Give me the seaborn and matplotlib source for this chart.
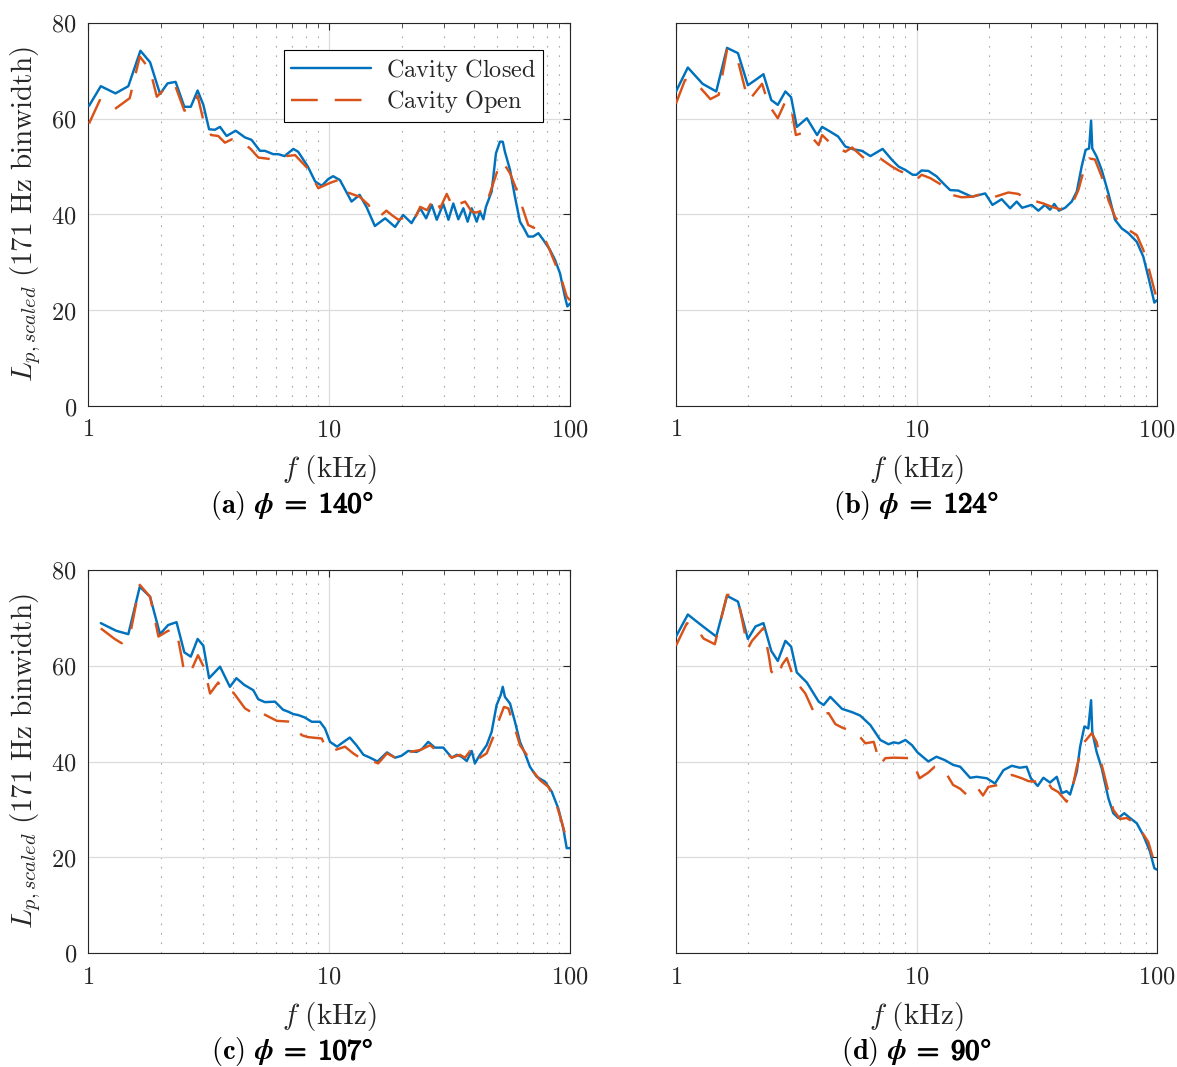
import numpy as np
import matplotlib
matplotlib.use("Agg")
import matplotlib.pyplot as plt
import matplotlib.patheffects as pe
import seaborn as sns
from matplotlib.ticker import FixedLocator, FixedFormatter, LogLocator, NullFormatter
from matplotlib.offsetbox import TextArea, HPacker, AnchoredOffsetbox

# ---------------- data ----------------
series_names = ["Cavity Closed", "Cavity Open"]
panel_letters = ["a", "b", "c", "d"]
panel_phi = [140, 124, 107, 90]
x_ticks = [1, 10, 100]
x_tick_labels = ["1", "10", "100"]
y_ticks = [0, 20, 40, 60, 80]
y_tick_labels = ["0", "20", "40", "60", "80"]

# (a) phi = 140
f_a_closed = [1.01, 1.13, 1.30, 1.47, 1.65, 1.81, 1.99, 2.14, 2.31, 2.51, 2.67, 2.85, 3.01, 3.18, 3.36,
              3.53, 3.76, 4.10, 4.48, 4.77, 5.17, 5.42, 5.87, 6.16, 6.54, 7.11, 7.45, 8.17, 8.76, 9.33,
              9.93, 10.4, 11.1, 12.4, 13.4, 14.3, 15.5, 17.1, 18.8, 20.3, 22.0, 23.9, 25.3, 26.7, 28.0,
              29.8, 31.3, 32.8, 34.4, 36.1, 37.6, 39.1, 41.0, 42.3, 43.7, 44.8, 47.3, 49.3, 51.2, 52.6,
              53.7, 56.4, 59.1, 62.0, 64.4, 67.1, 70.4, 73.9, 77.5, 82.6, 86.7, 90.9, 95.3, 97.5, 100]
L_a_closed = [62.7, 66.8, 65.3, 66.8, 74.2, 71.8, 65.2, 67.4, 67.7, 62.5, 62.5, 65.9, 62.9, 57.8, 57.7,
              58.3, 56.4, 57.5, 56.1, 55.6, 53.3, 53.3, 52.6, 52.6, 52.2, 53.7, 53.1, 50.0, 46.9, 46.0,
              47.4, 48.0, 47.2, 42.7, 44.1, 41.6, 37.6, 39.2, 37.4, 39.9, 38.2, 41.3, 39.2, 42.0, 38.9,
              42.2, 38.9, 42.3, 39.0, 41.3, 38.5, 41.3, 38.5, 40.6, 39.0, 41.6, 44.8, 52.8, 55.2, 55.2,
              53.1, 49.3, 43.7, 38.5, 37.1, 35.4, 35.4, 36.1, 34.7, 32.6, 30.5, 27.7, 22.8, 20.8, 21.4]
f_a_open = [1.01, 1.12, 1.29, 1.49, 1.64, 1.81, 1.93, 2.15, 2.29, 2.51, 2.69, 2.85, 3.01, 3.24, 3.47,
            3.70, 3.95, 4.41, 4.75, 5.09, 5.87, 6.35, 7.23, 8.17, 9.03, 10.1, 10.9, 11.65, 13.4, 14.6,
            15.3, 16.5, 17.3, 18.2, 19.4, 21.0, 22.4, 23.9, 25.5, 27.5, 28.9, 30.8, 32.8, 33.8, 36.7,
            39.1, 40.8, 43.7, 45.8, 51.2, 52.6, 56.4, 60.1, 64.0, 67.1, 71.6, 76.3, 81.3, 86.7, 92.4,
            97.0, 100]
L_a_open = [59.0, 63.9, 62.0, 64.3, 73.0, 70.2, 64.6, 67.0, 67.2, 61.7, 62.0, 64.8, 59.7, 56.6, 56.4,
            55.0, 55.7, 55.0, 53.6, 51.9, 51.5, 52.1, 52.4, 49.6, 45.5, 46.6, 47.2, 44.8, 43.7, 42.0,
            39.9, 39.9, 40.8, 39.9, 38.9, 39.5, 38.5, 41.6, 40.9, 43.7, 41.3, 44.3, 41.3, 42.0, 42.7,
            40.6, 40.4, 40.9, 43.4, 50.7, 51.0, 48.6, 45.1, 40.9, 37.8, 37.1, 36.1, 33.3, 29.8, 26.3,
            22.8, 22.1]

# (b) phi = 124
f_b_closed = [1.0, 1.12, 1.29, 1.47, 1.63, 1.81, 1.99, 2.14, 2.31, 2.49, 2.65, 2.85, 3.01, 3.18, 3.50,
              3.86, 4.05, 4.38, 4.72, 5.06, 5.48, 5.93, 6.43, 7.23, 7.91, 8.43, 8.99, 9.64, 10.0, 10.5,
              11.2, 12.1, 13.1, 13.8, 14.9, 17.0, 19.3, 20.7, 22.6, 24.5, 26.1, 27.5, 30.1, 32.1, 34.2,
              35.9, 37.4, 39.1, 41.5, 44.2, 46.4, 48.6, 50.5, 52.2, 53.2, 53.8, 56.1, 58.9, 62.8, 66.9,
              71.3, 76.0, 82.4, 87.7, 92.0, 97.5, 100]
L_b_closed = [65.7, 70.7, 67.3, 65.7, 74.8, 73.7, 67.0, 68.1, 69.3, 63.9, 62.9, 65.7, 64.5, 58.3, 60.1,
              56.6, 58.3, 57.3, 56.3, 54.2, 53.6, 53.3, 52.2, 53.7, 51.4, 50.0, 49.3, 48.3, 48.3, 49.2,
              49.1, 48.0, 46.2, 45.1, 45.0, 43.7, 44.4, 42.0, 43.2, 41.3, 42.7, 41.4, 42.0, 40.8, 42.0,
              41.0, 42.2, 40.8, 41.4, 42.7, 44.8, 50.0, 53.5, 53.8, 59.6, 53.8, 52.1, 49.3, 44.4, 38.9,
              37.1, 36.1, 34.3, 31.2, 27.0, 21.6, 22.1]
f_b_open = [1.0, 1.09, 1.20, 1.39, 1.505, 1.63, 1.82, 1.99, 2.06, 2.28, 2.43, 2.65, 2.85, 3.01, 3.15,
            3.50, 3.92, 4.05, 4.43, 5.06, 5.40, 6.13, 7.07, 7.91, 8.43, 8.96, 10.0, 10.5, 11.4, 13.1,
            14.0, 15.4, 17.0, 19.6, 21.2, 24.1, 26.5, 28.7, 31.6, 33.7, 36.5, 40.2, 44.2, 47.1, 49.4,
            52.2, 55.2, 58.9, 62.8, 66.9, 71.3, 76.0, 82.4, 87.7, 92.0, 98.4, 100]
L_b_open = [63.2, 68.1, 67.7, 64.1, 65.0, 74.4, 71.6, 63.9, 64.5, 67.3, 62.9, 60.1, 63.6, 62.5, 56.6,
            57.3, 54.5, 56.6, 54.7, 53.1, 54.0, 51.5, 51.7, 50.0, 49.2, 48.6, 47.3, 48.3, 47.6, 45.8,
            44.1, 43.6, 43.7, 44.6, 43.7, 44.6, 44.3, 43.2, 42.7, 42.3, 41.6, 41.0, 42.0, 45.1, 48.9,
            51.7, 51.5, 47.9, 43.0, 39.5, 37.8, 36.8, 35.7, 32.6, 29.1, 23.5, 22.0]

# (c) phi = 107
f_c_closed = [1.13, 1.31, 1.47, 1.64, 1.81, 1.99, 2.15, 2.33, 2.51, 2.67, 2.85, 3.01, 3.18, 3.53, 3.88,
              4.13, 4.45, 4.85, 5.09, 5.42, 5.97, 6.45, 6.78, 7.11, 7.45, 7.93, 8.48, 9.17, 9.62, 10.1,
              10.8, 11.5, 12.2, 13.0, 13.9, 14.8, 15.9, 17.4, 18.8, 20.0, 21.3, 23.1, 24.3, 25.8, 27.5,
              29.8, 32.3, 33.9, 35.5, 37.3, 39.1, 40.3, 42.3, 45.1, 47.3, 49.6, 51.6, 52.6, 53.7, 56.4,
              59.1, 62.0, 65.0, 68.2, 72.8, 78.7, 84.0, 89.4, 93.8, 96.9, 100]
L_c_closed = [68.9, 67.3, 66.6, 76.5, 74.4, 66.6, 68.5, 69.1, 62.8, 61.9, 65.6, 64.2, 57.4, 59.8, 55.6,
              57.4, 56.0, 54.9, 53.0, 52.4, 52.5, 50.8, 50.4, 49.9, 49.7, 49.2, 48.3, 48.3, 46.9, 44.1,
              43.1, 44.1, 45.0, 43.4, 41.4, 40.8, 40.0, 41.9, 40.8, 41.2, 42.2, 42.0, 42.6, 44.1, 42.9,
              42.9, 40.8, 41.4, 41.0, 40.1, 42.2, 39.6, 41.4, 43.4, 46.2, 51.8, 53.9, 55.6, 53.5, 52.1,
              48.3, 44.1, 41.7, 38.9, 36.8, 35.8, 33.7, 30.2, 26.0, 21.9, 21.9]
f_c_open = [1.13, 1.29, 1.38, 1.49, 1.64, 1.81, 1.96, 2.15, 2.33, 2.45, 2.51, 2.67, 2.86, 3.04, 3.21,
            3.47, 3.64, 4.01, 4.48, 5.09, 5.26, 5.6, 6.07, 6.99, 7.7, 8.17, 9.33, 9.78, 10.6, 11.65,
            12.6, 13.4, 14.8, 16.0, 17.4, 18.8, 20.3, 21.7, 23.9, 26.3, 28.0, 30.4, 32.3, 34.9, 36.7,
            38.5, 40.3, 42.3, 45.1, 48.1, 50.4, 53.2, 55.5, 59.1, 62.0, 66.1, 70.4, 75.1, 81.3, 86.7,
            92.4, 98.5, 100]
L_c_open = [67.8, 65.6, 64.7, 66.1, 76.9, 74.4, 66.1, 67.3, 67.3, 61.6, 58.4, 58.8, 62.2, 59.5, 54.2,
            56.5, 54.6, 54.4, 51.1, 49.4, 50.1, 49.4, 48.5, 48.3, 45.5, 45.1, 44.8, 42.4, 42.4, 43.1,
            41.7, 40.8, 40.3, 39.6, 41.7, 40.8, 40.8, 42.0, 42.4, 43.4, 42.2, 42.0, 40.8, 41.4, 40.8,
            42.2, 40.0, 40.8, 41.7, 45.2, 48.3, 51.4, 51.1, 46.9, 43.4, 41.4, 37.9, 36.1, 34.7, 32.0,
            27.4, 22.2, 22.5]

# (d) phi = 90
f_d_closed = [1.0, 1.12, 1.28, 1.47, 1.63, 1.81, 1.99, 2.14, 2.31, 2.49, 2.65, 2.85, 3.01, 3.18, 3.50,
              3.92, 4.11, 4.38, 4.90, 5.40, 5.83, 6.43, 7.07, 7.65, 8.04, 8.43, 8.99, 9.58, 10.1, 11.2,
              12.1, 13.1, 14.2, 15.2, 16.7, 17.8, 19.6, 21.2, 23.0, 24.9, 26.9, 28.7, 29.9, 31.9, 33.7,
              35.9, 38.3, 40.2, 42.1, 43.5, 46.4, 47.9, 49.9, 51.8, 53.2, 53.8, 56.1, 58.9, 62.8, 65.8,
              69.0, 73.1, 77.2, 82.4, 87.7, 93.5, 97.5, 100]
L_d_closed = [66.1, 70.7, 68.4, 66.1, 74.6, 73.4, 65.6, 68.2, 68.9, 63.1, 61.0, 65.2, 64.0, 58.6, 56.5,
              52.5, 51.8, 53.5, 51.0, 50.3, 49.6, 47.6, 44.5, 43.6, 44.0, 43.8, 44.5, 43.4, 41.9, 40.0,
              41.0, 40.3, 39.3, 38.9, 36.6, 36.8, 36.5, 35.4, 38.2, 39.1, 38.7, 38.9, 36.5, 34.9, 36.6,
              35.6, 36.8, 33.4, 33.8, 33.1, 37.9, 43.1, 47.3, 46.9, 52.8, 46.2, 42.0, 38.6, 32.3, 29.2,
              28.2, 29.2, 28.2, 27.1, 24.6, 21.2, 17.7, 17.4]
f_d_open = [1.0, 1.11, 1.22, 1.30, 1.45, 1.63, 1.68, 1.82, 1.99, 2.07, 2.31, 2.43, 2.49, 2.65, 2.76,
            2.89, 3.02, 3.15, 3.45, 3.79, 4.31, 4.60, 4.90, 5.65, 6.13, 6.64, 7.07, 7.42, 8.04, 9.42,
            9.89, 10.3, 11.2, 11.9, 12.9, 14.2, 15.2, 16.2, 17.8, 18.9, 19.9, 21.9, 23.4, 24.9, 27.4,
            29.2, 31.1, 34.2, 36.5, 38.9, 42.1, 44.2, 46.4, 49.4, 53.5, 56.1, 58.9, 62.8, 65.8, 70.2,
            74.8, 81.1, 86.4, 92.0, 98.1, 100]
L_d_open = [64.2, 68.9, 67.8, 65.7, 64.5, 74.8, 74.8, 73.3, 63.6, 65.2, 67.9, 62.2, 58.8, 57.5, 60.2,
            61.6, 58.8, 56.7, 54.2, 49.7, 50.1, 47.8, 47.1, 45.9, 43.8, 44.1, 39.4, 40.7, 40.8, 40.7,
            38.6, 36.5, 37.7, 38.9, 38.6, 35.1, 34.3, 33.0, 34.7, 32.9, 34.7, 35.1, 36.5, 37.2, 36.5,
            35.9, 35.8, 36.5, 34.4, 33.6, 31.6, 33.7, 38.9, 43.8, 45.9, 44.1, 39.3, 33.7, 29.9, 28.0,
            28.2, 27.1, 25.3, 23.2, 18.4, 17.8]

panel_data = {
    "a": (f_a_closed, L_a_closed, f_a_open, L_a_open),
    "b": (f_b_closed, L_b_closed, f_b_open, L_b_open),
    "c": (f_c_closed, L_c_closed, f_c_open, L_c_open),
    "d": (f_d_closed, L_d_closed, f_d_open, L_d_open),
}

# ---------------- style ----------------
sns.set_style("white")
plt.rcParams.update({
    "mathtext.fontset": "cm",
    "font.family": ["DejaVu Serif"],
    "axes.unicode_minus": False,
})

C_BLUE = "#0072BD"
C_ORANGE = "#D95319"
C_AX = "#262626"
TICK_FS = 17.5
LABEL_FS = 21
CAP_FS = 20.5

W, H = 1177, 1067
fig = plt.figure(figsize=(W / 100, H / 100), dpi=100)


def rect(l, r, t, b):
    return [l / W, 1 - b / H, (r - l) / W, (b - t) / H]


layout = {
    "a": (88, 570, 23, 406),
    "b": (676, 1157, 23, 406),
    "c": (88, 570, 570, 953),
    "d": (676, 1157, 570, 953),
}
caption_pos = {"a": (292, 505), "b": (916, 505), "c": (292, 1052), "d": (916, 1052)}


def mrm(s):
    return r"$\mathrm{" + s.replace(" ", r"\ ") + "}$"


for letter, phi in zip(panel_letters, panel_phi):
    fc, Lc, fo, Lo = panel_data[letter]
    ax = fig.add_axes(rect(*layout[letter]))
    sns.lineplot(x=fc, y=Lc, ax=ax, color=C_BLUE, linewidth=1.75, sort=False,
                 estimator=None, label=mrm(series_names[0]), legend=False, zorder=3)
    sns.lineplot(x=fo, y=Lo, ax=ax, color=C_ORANGE, linewidth=1.75, sort=False,
                 estimator=None, label=mrm(series_names[1]), legend=False,
                 linestyle=(0, (11, 7)), zorder=4)

    ax.set_xscale("log")
    ax.set_xlim(1, 100)
    ax.set_ylim(0, 80)
    ax.xaxis.set_major_locator(FixedLocator(x_ticks))
    ax.xaxis.set_major_formatter(FixedFormatter([mrm(t) for t in x_tick_labels]))
    ax.xaxis.set_minor_locator(LogLocator(base=10, subs=np.arange(2, 10)))
    ax.xaxis.set_minor_formatter(NullFormatter())
    ax.yaxis.set_major_locator(FixedLocator(y_ticks))
    if letter in ("a", "c"):
        ax.yaxis.set_major_formatter(FixedFormatter([mrm(t) for t in y_tick_labels]))
        ax.set_ylabel(r"$L_{p,scaled}\ \mathrm{(171\ Hz\ binwidth)}$", fontsize=LABEL_FS)
        ax.yaxis.set_label_coords(-0.093, 0.5)
    else:
        ax.yaxis.set_major_formatter(NullFormatter())
        ax.set_ylabel("")
    ax.set_xlabel(r"$f\ \mathrm{(kHz)}$", fontsize=LABEL_FS)
    ax.xaxis.set_label_coords(0.5, -0.122)

    ax.set_axisbelow(True)
    ax.grid(True, which="major", axis="both", color="#dcdcdc", linewidth=0.9, linestyle="-")
    ax.grid(True, which="minor", axis="x", color="#a8a8a8", linewidth=0.8,
            linestyle=(0, (1.5, 7)))

    for sp in ax.spines.values():
        sp.set_color(C_AX)
        sp.set_linewidth(0.8)
    ax.tick_params(which="both", direction="in", top=True, right=True, colors=C_AX,
                   labelcolor="#262626")
    ax.tick_params(which="major", length=5, width=0.8, labelsize=TICK_FS)
    ax.tick_params(which="minor", length=3, width=0.6)
    ax.tick_params(axis="x", which="major", pad=9)
    ax.tick_params(axis="y", which="major", pad=8)

    if letter == "a":
        leg = ax.legend(loc="upper right", bbox_to_anchor=(0.944, 0.9295), fontsize=17.5,
                        frameon=True, fancybox=False, edgecolor="black", framealpha=1,
                        handlelength=3.3, borderpad=0.28, labelspacing=0.18,
                        handletextpad=0.6, borderaxespad=0)
        leg.get_frame().set_linewidth(0.8)

    # bold caption: "(x) phi" in CM bold, "= NNN°" thickened with a stroke
    cx, cy = caption_pos[letter]
    part1 = TextArea(r"$\mathbf{(" + letter + r")}\ \boldsymbol{\phi}$",
                     textprops=dict(fontsize=CAP_FS, color="black"))
    part2 = TextArea(r"$=\;\mathrm{" + str(phi) + r"}^{\circ}$",
                     textprops=dict(fontsize=CAP_FS, color="black",
                                    path_effects=[pe.withStroke(linewidth=1.0, foreground="black")]))
    packed = HPacker(children=[part1, part2], pad=0, sep=4, align="baseline")
    box = AnchoredOffsetbox(loc="center", child=packed, pad=0, borderpad=0, frameon=False,
                            bbox_to_anchor=(cx / W, 1 - cy / H), bbox_transform=fig.transFigure)
    fig.add_artist(box)

fig.savefig("out.png", dpi=100)
